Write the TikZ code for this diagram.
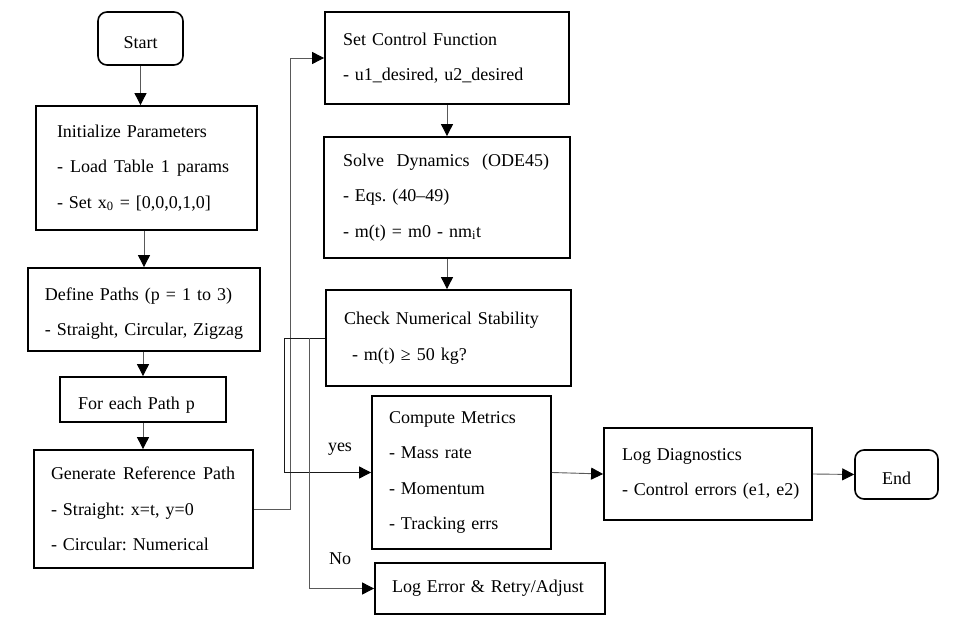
\documentclass[tikz,border=0pt]{standalone}
\usepackage{fontspec}
\setmainfont{Liberation Serif}
\frenchspacing
\usepackage{tikz}
\usetikzlibrary{arrows.meta}
\tikzstyle{block}=[draw, line width=1.8pt, align=left, inner ysep=0pt, font=\fontsize{18}{35.5}\selectfont]
\tikzstyle{terminal}=[draw, line width=1.6pt, rounded corners=9pt, align=center, inner sep=0pt, font=\fontsize{18}{20}\selectfont]
\tikzstyle{note}=[font=\fontsize{18}{20}\selectfont]
\tikzstyle{line}=[line width=0.9pt, black!65]
\tikzstyle{arrow}=[line, -{Triangle[length=12pt,width=12pt,color=black]}]

\begin{document}
\begin{tikzpicture}[x=1pt, y=-1pt]
      \useasboundingbox (0,0) rectangle (959,628);

      % left column
      \node[terminal, minimum width=85pt, minimum height=53pt] (start) at (140.5,38.5) {\raisebox{-4pt}[\height][\depth]{Start}};
      \node[block, minimum width=221pt, minimum height=124pt, text width=179pt, inner xsep=21pt] (init) at (146.5,168)
        {Initialize Parameters\\\makebox[172pt][l]{-\hfill Load\hfill Table\hfill 1\hfill params}\\- Set x\textsubscript{0} = [0,0,0,1,0]};
      \node[block, minimum width=232pt, minimum height=83pt, text width=198pt, inner xsep=17pt] (define) at (144,309.5)
        {\raisebox{-4pt}[\height][\depth]{Define Paths (p = 1 to 3)}\\\raisebox{-4pt}[\height][\depth]{- Straight, Circular, Zigzag}};
      \node[block, minimum width=166pt, minimum height=45pt, text width=130pt, inner xsep=18pt] (foreach) at (143,399.5)
        {\raisebox{-6pt}[\height][\depth]{For each Path p}};
      \node[block, minimum width=219pt, minimum height=118pt, text width=185pt, inner xsep=17pt] (generate) at (143.5,509)
        {\makebox[184pt][l]{Generate\hfill Reference\hfill Path}\\- Straight: x=t, y=0\\- Circular: Numerical};

      % middle column
      \node[block, minimum width=244pt, minimum height=92pt, text width=208pt, inner xsep=18pt] (setctrl) at (447,58)
        {Set Control Function\\- u1\_desired, u2\_desired};
      \node[block, minimum width=246pt, minimum height=121pt, text width=208pt, inner xsep=19pt] (solve) at (447,197.5)
        {\makebox[206pt][l]{Solve\hfill Dynamics\hfill (ODE45)}\\- Eqs. (40–49)\\- m(t) = m0 - nm\textsubscript{i}t};
      \node[block, minimum width=245pt, minimum height=96pt, text width=209pt, inner xsep=18pt] (check) at (448.5,338)
        {Check Numerical Stability\\\hspace*{8pt}- m(t) ≥ 50 kg?};
      \node[block, minimum width=179pt, minimum height=153pt, text width=145pt, inner xsep=17pt] (compute) at (461.5,472.5)
        {Compute Metrics\\- Mass rate\\- Momentum\\- Tracking errs};
      \node[block, minimum width=230pt, minimum height=51pt, text width=196pt, inner xsep=17pt] (logerr) at (490,588.5)
        {Log Error \& Retry/Adjust};

      % right part
      \node[block, minimum width=208pt, minimum height=92pt, text width=172pt, inner xsep=18pt] (logdiag) at (708,474)
        {Log Diagnostics\\\mbox{- Control errors (e1, e2)}};
      \node[terminal, minimum width=83pt, minimum height=49pt] (end) at (896.5,474.5) {\raisebox{-4pt}[\height][\depth]{End}};

      \node[note] (yes) at (340,449) {yes};
      \node[note] (no) at (340,559) {No};

      % connectors
      \draw[arrow] (start.south) -- (start.south |- init.north);
      \draw[arrow] (define.north |- init.south) -- (define.north);
      \draw[arrow] (foreach.north |- define.south) -- (foreach.north);
      \draw[arrow] (foreach.south) -- (foreach.south |- generate.north);
      \draw[arrow] (generate.east) -- ++(37,0) |- (setctrl.west);
      \draw[arrow] (setctrl.south) -- (solve.north);
      \draw[arrow] (solve.south) -- (solve.south |- check.north);
      \draw[arrow, black!90] (check.west) -- ++(-41,0) |- (compute.west);
      \draw[arrow] ([xshift=-16pt]check.west) |- (logerr.west);
      \draw[arrow] (compute.east) -- (logdiag.west);
      \draw[arrow] (logdiag.east) -- (end.west);

\end{tikzpicture}
\end{document}
